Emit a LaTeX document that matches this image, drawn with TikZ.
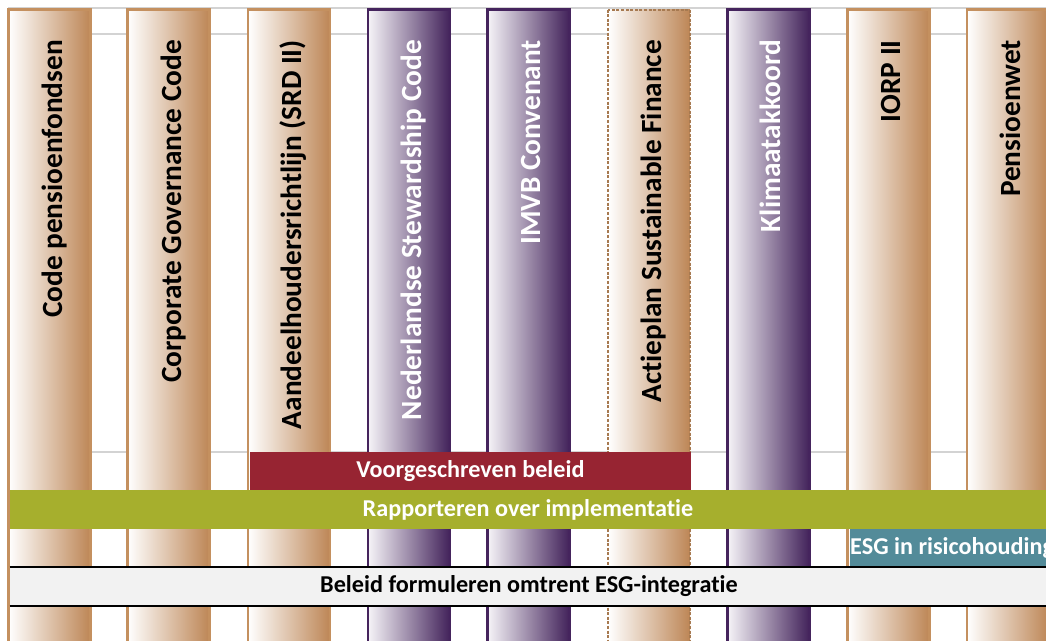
\documentclass[tikz,border=0pt]{standalone}
\usepackage{fontspec}
\setmainfont{Carlito}[Ligatures=NoCommon]
\definecolor{tanedge}{HTML}{C4905F}
\definecolor{tanshade}{HTML}{BD8656}
\definecolor{purpedge}{HTML}{45245D}
\definecolor{purpshade}{HTML}{42225A}
\definecolor{purplight}{HTML}{F6F4F8}
\definecolor{redband}{HTML}{972432}
\definecolor{greenband}{HTML}{A6AF2D}
\definecolor{tealband}{HTML}{538B99}
\definecolor{greyband}{HTML}{F2F2F2}
\definecolor{gridgrey}{HTML}{D3D3D3}
\begin{document}
\begin{tikzpicture}[x=1pt,y=-1pt,
  gridline/.style={draw=gridgrey, line width=1.5pt},
  tanpillar/.style={draw=tanedge, line width=2.6pt, left color=white, right color=tanshade},
  dashpillar/.style={draw=tanedge!85!black, line width=2pt, dash pattern=on 3pt off 1.6pt, left color=white, right color=tanshade},
  purppillar/.style={draw=purpedge, line width=2.6pt, left color=purplight, right color=purpshade},
  pillartext/.style={rotate=90, anchor=base east, inner sep=0pt, font=\bfseries\fontsize{29.3}{31}\selectfont},
  bandtext/.style={inner sep=0pt, text=white, font=\bfseries\fontsize{24.2}{27}\selectfont},
]
\useasboundingbox (0,0) rectangle (1046,640);
\clip (0,0) rectangle (1046,640);

% table rules behind the pillars
\foreach \yy in {8,34,452} \draw[gridline] (8,\yy) -- (1046,\yy);

% pillars
\draw[tanpillar]  (8.5,9.5)   rectangle (90.5,660);
\draw[tanpillar]  (127.5,9.5) rectangle (209.5,660);
\draw[tanpillar]  (248,9.5)   rectangle (330,660);
\draw[purppillar] (368,9.5)   rectangle (450,660);
\draw[purppillar] (487.5,9.5) rectangle (569.5,660);
\draw[dashpillar] (608,9.5)   rectangle (690,660);
\draw[purppillar] (727.5,9.5) rectangle (809.5,660);
\draw[tanpillar]  (847.5,9.5) rectangle (929.5,660);
\draw[tanpillar]  (967,9.5)   rectangle (1049,660);

% pillar titles
\node[pillartext] (t1) at (62,40)    {Code pensioenfondsen};
\node[pillartext] (t2) at (181,40)   {Corporate Governance Code};
\node[pillartext] (t3) at (301,40)   {Aandeelhoudersrichtlijn (SRD II)};
\node[pillartext, text=white] (t4) at (421,40) {Nederlandse Stewardship Code};
\node[pillartext, text=white] (t5) at (540,40) {IMVB Convenant};
\node[pillartext] (t6) at (661,40)   {Actieplan Sustainable Finance};
\node[pillartext, text=white] (t7) at (780,40) {Klimaatakkoord};
\node[pillartext] (t8) at (900,40)   {IORP II};
\node[pillartext] (t9) at (1020,40)  {Pensioenwet};

% horizontal themes
\fill[redband]   (250,452) rectangle (691,490);
\node[bandtext] (voorgeschreven) at (470.5,471) {Voorgeschreven beleid};

\fill[greenband] (9.5,490) rectangle (1046,529);
\node[bandtext] (rapporteren) at (528,509.5) {Rapporteren over implementatie};

% this band runs on past the right edge, so its label is cut there
\fill[tealband]  (850,529) rectangle (1060,567);
\node[bandtext, anchor=west] (risico) at (850,548) {ESG in risicohouding};

\fill[greyband]  (9.5,567) rectangle (1046,606);
\draw[black, line width=2pt] (9.5,567) -- (1046,567);
\draw[black, line width=2pt] (9.5,606) -- (1046,606);
\node[bandtext, text=black] (beleid) at (529,586.5) {Beleid formuleren omtrent ESG-integratie};
\end{tikzpicture}
\end{document}
